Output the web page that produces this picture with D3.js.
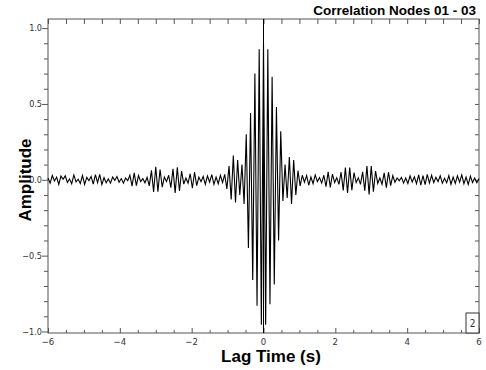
<!doctype html>
<html lang="en">
<head>
    <meta charset="utf-8">
    <title>Correlation Nodes 01 - 03</title>
    <script src="https://cdnjs.cloudflare.com/ajax/libs/d3/7.8.5/d3.min.js" type="text/JavaScript"></script>
    <style>
        body { margin: 0; background: #fff; }
        .tick-label { font-family: "Liberation Sans Narrow", "DejaVu Sans Condensed", sans-serif; fill: #333; }
        .big { font-family: "Liberation Sans", Arial, sans-serif; font-weight: bold; fill: #000; }
    </style>
</head>
<body>
<div id="chart"></div>
<script>
    // sample grid of the correlation trace
    const lagStart = -6;
    const lagStep = 0.06;

    // amplitude, one sample at a time
    const amplitude = [
        0.012, -0.022, 0.028, -0.008, 0.018, -0.03, 0.024, 0.004, 0.026, -0.018,
        0.006, -0.026, 0.032, -0.014, 0.004, -0.024, 0.028, -0.03, 0.016, -0.006,
        0.022, -0.028, 0.034, -0.018, 0.036, -0.032, 0.014, -0.02, 0.006, -0.022,
        0.018, -0.004, 0.022, -0.016, 0.008, -0.022, 0.012, -0.006, 0.03, -0.042,
        0.046, -0.038, 0.028, -0.012, 0.008, -0.02, 0.016, -0.04, 0.062, -0.08,
        0.086, -0.078, 0.068, -0.048, 0.018, -0.012, 0.03, -0.052, 0.072, -0.086,
        0.082, -0.074, 0.058, -0.028, 0.012, -0.022, 0.04, -0.056, 0.05, -0.038,
        0.018, -0.012, 0.022, -0.03, 0.026, -0.016, 0.034, -0.03, 0.018, -0.026,
        0.03, -0.018, 0.036, -0.06, 0.09, -0.13, 0.16, -0.15, 0.13, -0.10,
        0.10, -0.16, 0.30, -0.45, 0.44, -0.66, 0.70, -0.83, 0.86, -0.955,
        0.90, -0.955, 0.86, -0.82, 0.68, -0.69, 0.48, -0.40, 0.32, -0.14,
        0.10, -0.12, 0.15, -0.16, 0.13, -0.10, 0.06, -0.04, 0.03, -0.016,
        0.028, -0.036, 0.018, -0.026, 0.032, -0.012, 0.014, -0.022, 0.03, -0.045,
        0.052, -0.05, 0.038, -0.018, 0.014, -0.03, 0.05, -0.07, 0.08, -0.086,
        0.08, -0.068, 0.048, -0.018, 0.014, -0.03, 0.052, -0.072, 0.09, -0.096,
        0.09, -0.078, 0.058, -0.024, 0.012, -0.03, 0.046, -0.052, 0.05, -0.038,
        0.028, -0.016, 0.012, -0.006, 0.016, -0.022, 0.012, -0.024, 0.026, -0.014,
        0.02, -0.026, 0.032, -0.036, 0.028, -0.032, 0.036, -0.022, 0.03, -0.018,
        0.016, -0.012, 0.026, -0.022, 0.01, -0.02, 0.028, -0.03, 0.018, -0.024,
        0.026, -0.016, 0.032, -0.026, 0.018, -0.03, 0.024, -0.018, 0.012, -0.02, 0.008
    ];

    const xTicks = [-6, -4, -2, 0, 2, 4, 6];
    const yTicks = [-1.0, -0.5, 0.0, 0.5, 1.0];

    const width = 486, height = 370;

    const x = d3.scaleLinear().domain([-6, 6]).range([48, 479]);
    const y = d3.scaleLinear().domain([-1.01, 1.06]).range([333, 19]);

    const svg = d3.select("#chart").append("svg")
        .attr("width", width)
        .attr("height", height);

    // frame
    svg.append("rect")
        .attr("x", x(-6)).attr("y", y(1.06))
        .attr("width", x(6) - x(-6)).attr("height", y(-1.01) - y(1.06))
        .attr("fill", "none").attr("stroke", "#555");

    // bottom axis: ticks point up into the frame
    const axB = svg.append("g").attr("transform", `translate(0,${y(-1.01)})`)
        .call(d3.axisBottom(x).tickValues(d3.range(-6, 6.01, 0.5)).tickSizeInner(-3).tickSizeOuter(0).tickFormat(""));
    axB.select(".domain").remove();
    axB.selectAll(".tick line").attr("stroke", "#555")
        .filter(d => Math.abs(d % 2) < 1e-9).attr("y2", -5);

    svg.append("g").selectAll("text")
        .data(xTicks)
        .join("text")
        .attr("class", "tick-label")
        .attr("x", d => x(d))
        .attr("y", 345)
        .attr("text-anchor", "middle")
        .attr("font-size", 9.5)
        .text(d => d3.format("d")(d).replace("-", "\u2212"));

    // top axis: short ticks hanging inside
    const axT = svg.append("g").attr("transform", `translate(0,${y(1.06)})`)
        .call(d3.axisTop(x).tickValues(d3.range(-6, 6.01, 0.5)).tickSizeInner(-5).tickSizeOuter(0).tickFormat(""));
    axT.select(".domain").remove();
    axT.selectAll(".tick line").attr("stroke", "#555");

    // left axis: ticks point outwards
    const axL = svg.append("g").attr("transform", `translate(${x(-6)},0)`)
        .call(d3.axisLeft(y).tickValues(d3.range(-10, 11).map(d => d / 10)).tickSizeInner(4).tickSizeOuter(0).tickFormat(""));
    axL.select(".domain").remove();
    axL.selectAll(".tick line").attr("stroke", "#555")
        .filter(d => Math.abs(Math.round(d * 10) % 5) === 0).attr("x2", -6);

    svg.append("g").selectAll("text")
        .data(yTicks)
        .join("text")
        .attr("class", "tick-label")
        .attr("x", 42)
        .attr("y", d => y(d))
        .attr("dy", "0.35em")
        .attr("text-anchor", "end")
        .attr("font-size", 9)
        .text(d => d3.format(".1f")(d).replace("-", "\u2212"));

    // right axis: ticks point inwards
    const axR = svg.append("g").attr("transform", `translate(${x(6)},0)`)
        .call(d3.axisRight(y).tickValues(d3.range(-10, 11).map(d => d / 10)).tickSizeInner(-4).tickSizeOuter(0).tickFormat(""));
    axR.select(".domain").remove();
    axR.selectAll(".tick line").attr("stroke", "#555");

    // zero-lag marker
    svg.append("line")
        .attr("x1", x(0)).attr("x2", x(0))
        .attr("y1", y(1.06)).attr("y2", y(-1.01))
        .attr("stroke", "#000");

    // the trace
    const line = d3.line()
        .x((d, i) => x(lagStart + i * lagStep))
        .y(d => y(d));

    svg.append("path")
        .datum(amplitude)
        .attr("fill", "none")
        .attr("stroke", "#000")
        .attr("stroke-width", 1.1)
        .attr("d", line);

    // panel number box
    svg.append("rect")
        .attr("x", 466).attr("y", 313)
        .attr("width", x(6) - 466).attr("height", y(-1.01) - 313)
        .attr("fill", "#fff").attr("stroke", "#333");
    svg.append("text")
        .attr("class", "tick-label")
        .attr("x", 472.5).attr("y", 327)
        .attr("text-anchor", "middle")
        .attr("font-size", 10)
        .text("2");

    // titles
    svg.append("text")
        .attr("class", "big")
        .attr("x", 476).attr("y", 15)
        .attr("text-anchor", "end")
        .attr("font-size", 13.5)
        .text("Correlation Nodes 01 - 03");

    svg.append("text")
        .attr("class", "big")
        .attr("x", 271).attr("y", 362)
        .attr("text-anchor", "middle")
        .attr("font-size", 17)
        .text("Lag Time (s)");

    svg.append("text")
        .attr("class", "big")
        .attr("transform", "translate(31,180) rotate(-90)")
        .attr("text-anchor", "middle")
        .attr("font-size", 17)
        .text("Amplitude");
</script>
</body>
</html>
